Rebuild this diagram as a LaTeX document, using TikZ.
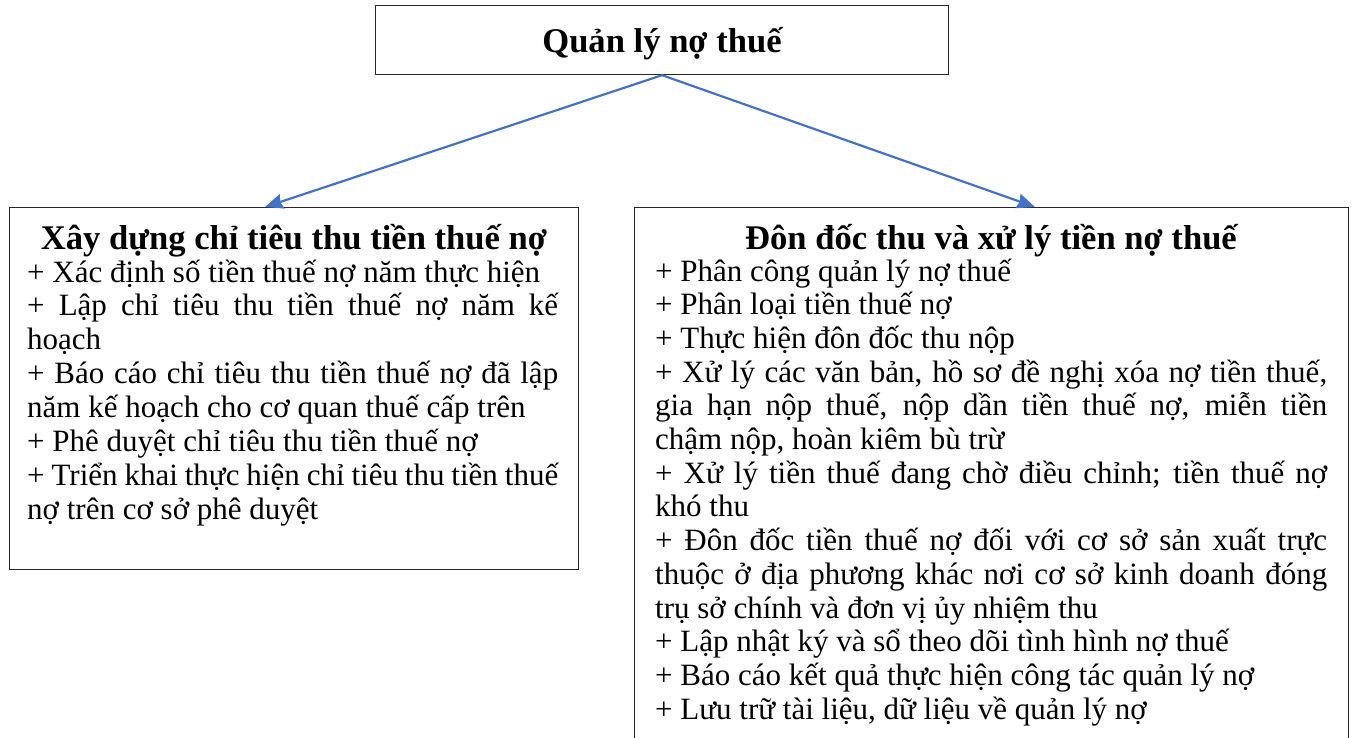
\documentclass[tikz,border=0pt]{standalone}
\usepackage{fontspec}
\setmainfont{Liberation Serif}
\usetikzlibrary{arrows.meta}
\definecolor{arrowblue}{HTML}{4472C4}
\begin{document}
\begin{tikzpicture}[x=1pt,y=-1pt,
  box/.style={draw=black!85, line width=1.2pt, inner sep=0pt, rectangle, anchor=north west},
  conn/.style={draw=arrowblue, line width=2.2pt, -{Stealth[length=18pt,width=15pt,inset=2pt]}},
  titletext/.style={font=\bfseries\fontsize{34.6}{38}\selectfont, anchor=base, inner sep=0pt},
  bodytext/.style={anchor=base west, inner sep=0pt}]
\useasboundingbox (0,0) rectangle (1355,737);
\node[box, minimum width=573pt, minimum height=69pt] (top) at (375,5) {};
\node[box, minimum width=569pt, minimum height=362pt] (left) at (9,207) {};
\node[box, minimum width=714pt, minimum height=545pt] (right) at (634,207) {};
\node[titletext] (toptitle) at (662,52) {Quản lý nợ thuế};
\node[titletext] (lefttitle) at (294,249) {Xây dựng chỉ tiêu thu tiền thuế nợ};
\node[titletext] (righttitle) at (991,249) {Đôn đốc thu và xử lý tiền nợ thuế};
\node[bodytext] (leftbody) at (27,282) {\parbox[t]{531pt}{\fontsize{31}{33.9}\selectfont
+ Xác định số tiền thuế nợ năm thực hiện\\
\makebox[\linewidth][s]{+ Lập chỉ tiêu thu tiền thuế nợ năm kế}\\
hoạch\\
\makebox[\linewidth][s]{+ Báo cáo chỉ tiêu thu tiền thuế nợ đã lập}\\
năm kế hoạch cho cơ quan thuế cấp trên\\
+ Phê duyệt chỉ tiêu thu tiền thuế nợ\\
\makebox[\linewidth][s]{+ Triển khai thực hiện chỉ tiêu thu tiền thuế}\\
nợ trên cơ sở phê duyệt}};
\node[bodytext] (rightbody) at (655,281) {\parbox[t]{672pt}{\fontsize{31}{33.7}\selectfont
+ Phân công quản lý nợ thuế\\
+ Phân loại tiền thuế nợ\\
+ Thực hiện đôn đốc thu nộp\\
\makebox[\linewidth][s]{+ Xử lý các văn bản, hồ sơ đề nghị xóa nợ tiền thuế,}\\
\makebox[\linewidth][s]{gia hạn nộp thuế, nộp dần tiền thuế nợ, miễn tiền}\\
chậm nộp, hoàn kiêm bù trừ\\
\makebox[\linewidth][s]{+ Xử lý tiền thuế đang chờ điều chỉnh; tiền thuế nợ}\\
khó thu\\
\makebox[\linewidth][s]{+ Đôn đốc tiền thuế nợ đối với cơ sở sản xuất trực}\\
\makebox[\linewidth][s]{thuộc ở địa phương khác nơi cơ sở kinh doanh đóng}\\
trụ sở chính và đơn vị ủy nhiệm thu\\
+ Lập nhật ký và sổ theo dõi tình hình nợ thuế\\
+ Báo cáo kết quả thực hiện công tác quản lý nợ\\
+ Lưu trữ tài liệu, dữ liệu về quản lý nợ}};
\coordinate (lefttip) at (265,207);
\coordinate (righttip) at (1035,207);
\draw[conn] (top.south) -- (lefttip);
\draw[conn] (top.south) -- (righttip);
\end{tikzpicture}
\end{document}
